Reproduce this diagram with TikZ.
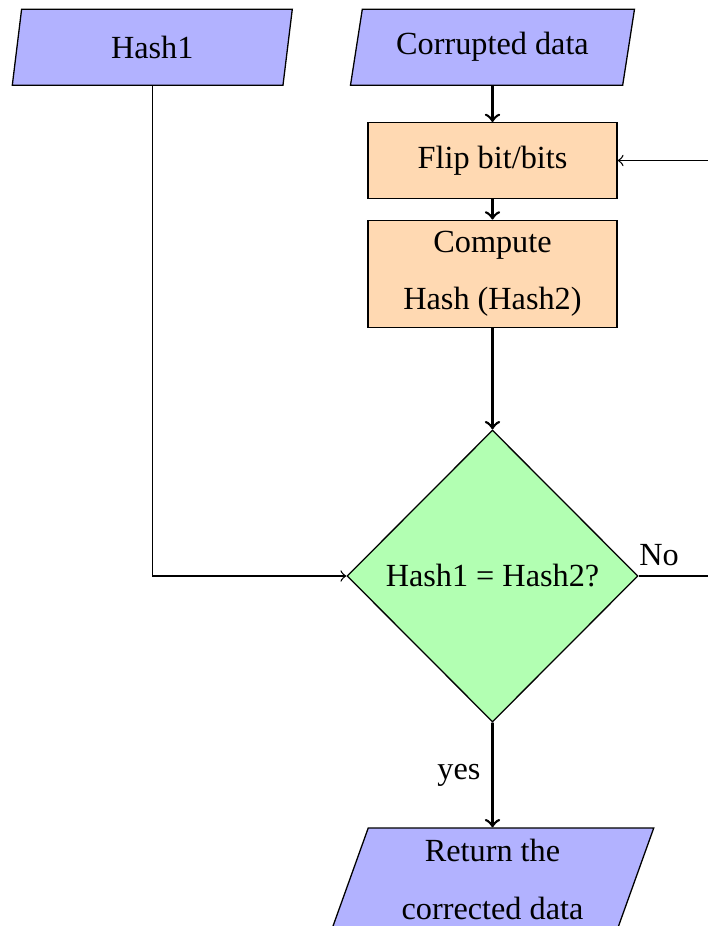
\documentclass[tikz,border=0pt]{standalone}
\usepackage{fontspec}
\setmainfont{Liberation Serif}
\usetikzlibrary{shapes.geometric}
\begin{document}
\begin{tikzpicture}[
  x=0.31pt, y=-0.31pt,
  every node/.style={font=\fontsize{10}{17.8}\selectfont},
  io/.style={trapezium, trapezium stretches body, draw=black, fill=blue!30, align=center},
  process/.style={rectangle, draw=black, fill=orange!30, align=center, minimum width=249*0.31pt},
  decision/.style={diamond, draw=black, fill=green!30, align=center,
                   minimum width=291*0.31pt, minimum height=292*0.31pt},
  flow/.style={thick,->},
  link/.style={->},
]
\clip (0,0) rectangle (708,926);

% inputs
\node[io, trapezium left angle=78.1, trapezium right angle=101.9,
      minimum height=76*0.31pt, minimum width=280*0.31pt] (hash1) at (152.3,47.2) {Hash1};
\node[io, trapezium left angle=76.9, trapezium right angle=103.1,
      minimum height=76*0.31pt, minimum width=284*0.31pt] (corr) at (492.5,47.2) {Corrupted data};

% processing steps
\node[process, minimum height=75.6*0.31pt] (flip) at (492.5,160.5) {Flip bit/bits};
\node[process] (comp) at (492.5,273.8) {Compute\\Hash (Hash2)};

% test
\node[decision] (dec) at (492.5,576) {Hash1 = Hash2?};

% output
\node[io, trapezium left angle=70, trapezium right angle=110,
      minimum height=103*0.31pt, minimum width=322.5*0.31pt] (ret) at (492.5,879.5) {Return the\\corrected data};

% labels
\node[anchor=base] (no) at (659,565) {No};
\node[anchor=base] (yes) at (459,779) {yes};

% connectors
\draw[flow] (corr.south) -- (flip.north);
\draw[flow] (flip.south) -- (comp.north);
\draw[flow] (comp.south) -- (dec.north);
\draw[flow] (dec.south) -- (ret.north);
\draw[link] (hash1.south) |- (dec.west);
\coordinate (loop) at (760,576);
\draw[link] (dec.east) -- (loop) |- (flip.east);
\end{tikzpicture}
\end{document}
